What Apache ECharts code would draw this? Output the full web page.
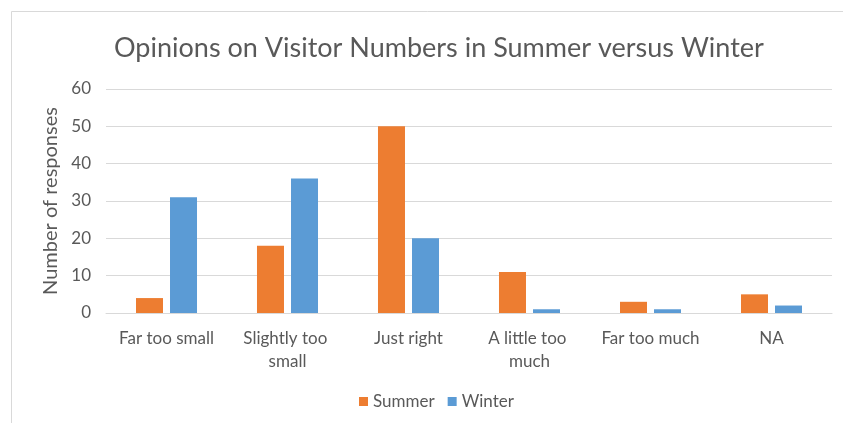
<!DOCTYPE html>
<html>
<head>
<meta charset="utf-8">
<script src="https://cdn.jsdelivr.net/npm/echarts@6/dist/echarts.min.js"></script>
<style>
  * { margin: 0; padding: 0; }
  body { background: #fff; }
</style>
</head>
<body>
<div id="chart" style="width: 843px; height: 423px;"></div>
<script>
  // data
  const categories = ['Far too small', 'Slightly too small', 'Just right', 'A little too much', 'Far too much', 'NA']
  const summer = [4, 18, 50, 11, 3, 5]
  const winter = [31, 36, 20, 1, 1, 2]
  const yTicks = { min: 0, max: 60, interval: 10 }

  const font = 'Lato, "Open Sans", sans-serif'
  const grey = '#595959'

  let myChart = echarts.init(document.getElementById('chart'))
  myChart.setOption({
    backgroundColor: '#fff',
    animation: false,
    // light frame around the chart area
    graphic: [{
      type: 'rect',
      shape: { x: 11.5, y: 11.5, width: 900, height: 500 },
      style: { fill: 'none', stroke: '#d9d9d9', lineWidth: 1 },
      z: -1
    }],
    title: {
      text: 'Opinions on Visitor Numbers in Summer versus Winter',
      left: 109,
      top: 30,
      textStyle: { color: grey, fontFamily: font, fontWeight: 'normal', fontSize: 27 }
    },
    legend: {
      bottom: 8,
      left: 354,
      itemWidth: 9,
      itemHeight: 9,
      itemGap: 13,
      icon: 'rect',
      textStyle: { color: grey, fontFamily: font, fontSize: 17 },
      data: ['Summer', 'Winter']
    },
    grid: { left: 106, right: 11, top: 89, bottom: 110 },
    xAxis: {
      type: 'category',
      data: categories,
      axisLine: { lineStyle: { color: '#d9d9d9' } },
      axisTick: { show: false },
      axisLabel: {
        color: grey, fontFamily: font, fontSize: 17, margin: 14,
        width: 110, overflow: 'break', lineHeight: 23, interval: 0
      }
    },
    yAxis: {
      type: 'value',
      min: yTicks.min,
      max: yTicks.max,
      interval: yTicks.interval,
      name: 'Number of responses',
      nameLocation: 'middle',
      nameGap: 44,
      nameTextStyle: { color: grey, fontFamily: font, fontSize: 20 },
      axisLine: { show: false },
      axisTick: { show: false },
      axisLabel: { color: grey, fontFamily: font, fontSize: 17, margin: 15 },
      splitLine: { lineStyle: { color: '#d9d9d9', width: 1 } }
    },
    series: [
      {
        name: 'Summer',
        type: 'bar',
        data: summer,
        barWidth: 27,
        barGap: '26%',
        itemStyle: { color: '#ed7d31' }
      },
      {
        name: 'Winter',
        type: 'bar',
        data: winter,
        barWidth: 27,
        itemStyle: { color: '#5b9bd5' }
      }
    ]
  })
</script>
</body>
</html>
